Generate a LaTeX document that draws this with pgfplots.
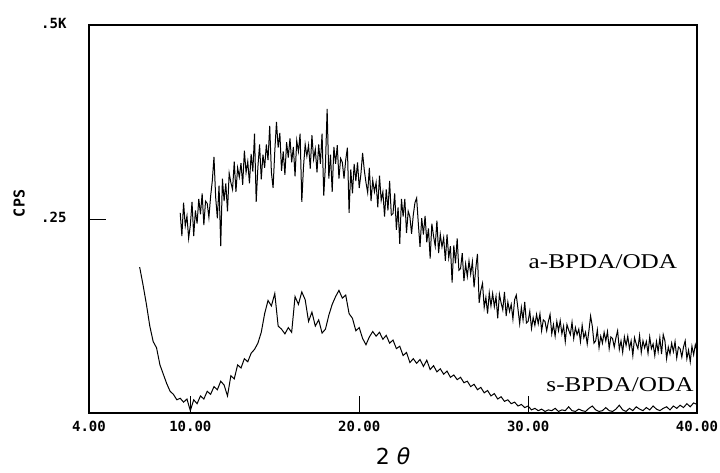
\documentclass[border=0pt]{standalone}
\usepackage{fontspec}
\usepackage{pgfplots}
\pgfplotsset{compat=1.18}
\setmainfont{Liberation Serif}
\newfontfamily\monofont{DejaVu Sans Mono}
\newfontfamily\sansfont{DejaVu Sans}
\newfontfamily\labelfont{Liberation Serif}[FakeStretch=1.2]
\begin{document}
\begin{tikzpicture}
\begin{axis}[
  scale only axis,
  width=608pt, height=388pt,
  xmin=4, xmax=40, ymin=0, ymax=500,
  axis line style={line width=1.3pt, black},
  xtick={4,10,20,30,40},
  xticklabels={4.00,10.00,20.00,30.00,40.00},
  ytick={250,500},
  yticklabels={.25,.5K},
  xtick pos=bottom, ytick pos=left,
  tick align=inside,
  major tick length=17pt,
  tick style={line width=0.9pt, black},
  xticklabel style={font=\monofont\bfseries\fontsize{14}{14}\selectfont, yshift=-5pt},
  yticklabel style={font=\monofont\bfseries\fontsize{14}{14}\selectfont, xshift=-19pt, yshift=2pt},
  xlabel={{\sansfont 2 \itshape θ}},
  xlabel style={font=\fontsize{22}{22}\selectfont, at={(axis description cs:0.5,-0.111)}, anchor=center},
  ylabel={CPS},
  ylabel style={font=\monofont\bfseries\fontsize{15}{15}\selectfont, at={(axis description cs:-0.115,0.54)}, anchor=center},
  clip=false,
]
% a-BPDA/ODA
\addplot[black, line width=1pt] coordinates {
(9.4,258)(9.5,228)(9.6,271)(9.7,241)(9.8,254)(9.9,225)
(10.0,242)(10.1,272)(10.2,228)(10.3,261)(10.4,244)(10.5,276)(10.6,256)(10.7,283)(10.8,242)(10.9,273)
(11.0,270)(11.1,252)(11.2,279)(11.3,299)(11.4,330)(11.5,278)(11.6,251)(11.7,293)(11.8,215)(11.9,302)
(12.0,273)(12.1,296)(12.2,260)(12.3,309)(12.4,297)(12.5,288)(12.6,324)(12.7,285)(12.8,316)(12.9,304)
(13.0,322)(13.1,294)(13.2,338)(13.3,310)(13.4,324)(13.5,296)(13.6,334)(13.7,311)(13.8,360)(13.9,272)
(14.0,317)(14.1,346)(14.2,301)(14.3,333)(14.4,316)(14.5,346)(14.6,326)(14.7,370)(14.8,310)(14.9,290)
(15.0,337)(15.1,375)(15.2,342)(15.3,361)(15.4,312)(15.5,337)(15.6,307)(15.7,349)(15.8,329)(15.9,354)
(16.0,323)(16.1,343)(16.2,305)(16.3,351)(16.4,337)(16.5,360)(16.6,272)(16.7,317)(16.8,346)(16.9,331)
(17.0,345)(17.1,315)(17.2,358)(17.3,327)(17.4,340)(17.5,310)(17.6,346)(17.7,321)(17.8,360)(17.9,280)
(18.0,320)(18.1,392)(18.2,302)(18.3,333)(18.4,285)(18.5,343)(18.6,321)(18.7,345)(18.8,302)(18.9,328)
(19.0,323)(19.1,302)(19.2,326)(19.3,342)(19.4,258)(19.5,314)(19.6,283)(19.7,321)(19.8,299)(19.9,323)
(20.0,290)(20.1,308)(20.2,335)(20.3,313)(20.4,297)(20.5,284)(20.6,316)(20.7,273)(20.8,300)(20.9,285)
(21.0,297)(21.1,265)(21.2,306)(21.3,274)(21.4,285)(21.5,253)(21.6,288)(21.7,261)(21.8,299)(21.9,255)
(22.0,257)(22.1,283)(22.2,236)(22.3,265)(22.4,218)(22.5,276)(22.6,253)(22.7,276)(22.8,232)(22.9,260)
(23.0,253)(23.1,231)(23.2,255)(23.3,271)(23.4,277)(23.5,244)(23.6,214)(23.7,251)(23.8,230)(23.9,254)
(24.0,220)(24.1,238)(24.2,199)(24.3,244)(24.4,228)(24.5,215)(24.6,248)(24.7,206)(24.8,230)(24.9,214)
(25.0,226)(25.1,196)(25.2,230)(25.3,200)(25.4,215)(25.5,168)(25.6,216)(25.7,193)(25.8,225)(25.9,184)
(26.0,186)(26.1,206)(26.2,170)(26.3,192)(26.4,176)(26.5,196)(26.6,179)(26.7,195)(26.8,162)(26.9,186)
(27.0,205)(27.1,142)(27.2,158)(27.3,167)(27.4,136)(27.5,149)(27.6,128)(27.7,155)(27.8,138)(27.9,154)
(28.0,137)(28.1,150)(28.2,122)(28.3,153)(28.4,142)(28.5,133)(28.6,156)(28.7,125)(28.8,143)(28.9,131)
(29.0,140)(29.1,121)(29.2,146)(29.3,152)(29.4,134)(29.5,115)(29.6,136)(29.7,120)(29.8,143)(29.9,116)
(30.0,118)(30.1,131)(30.2,109)(30.3,123)(30.4,113)(30.5,127)(30.6,115)(30.7,128)(30.8,106)(30.9,120)
(31.0,118)(31.1,106)(31.2,118)(31.3,127)(31.4,102)(31.5,114)(31.6,99)(31.7,118)(31.8,106)(31.9,119)
(32.0,102)(32.1,112)(32.2,92)(32.3,114)(32.4,107)(32.5,101)(32.6,117)(32.7,96)(32.8,110)(32.9,101)
(33.0,108)(33.1,92)(33.2,113)(33.3,97)(33.4,104)(33.5,89)(33.6,106)(33.7,125)(33.8,112)(33.9,90)
(34.0,93)(34.1,107)(34.2,84)(34.3,99)(34.4,90)(34.5,104)(34.6,93)(34.7,105)(34.8,83)(34.9,98)
(35.0,96)(35.1,85)(35.2,97)(35.3,106)(35.4,82)(35.5,93)(35.6,78)(35.7,98)(35.8,87)(35.9,99)
(36.0,83)(36.1,93)(36.2,74)(36.3,97)(36.4,89)(36.5,83)(36.6,100)(36.7,78)(36.8,93)(36.9,84)
(37.0,92)(37.1,77)(37.2,98)(37.3,83)(37.4,89)(37.5,74)(37.6,92)(37.7,79)(37.8,97)(37.9,76)
(38.0,101)(38.1,93)(38.2,70)(38.3,85)(38.4,76)(38.5,90)(38.6,79)(38.7,92)(38.8,71)(38.9,85)
(39.0,83)(39.1,72)(39.2,85)(39.3,93)(39.4,70)(39.5,81)(39.6,66)(39.7,86)(39.8,75)(39.9,88)(40.0,80)
};
% s-BPDA/ODA
\addplot[black, line width=1pt] coordinates {
(7.0,188)(7.2,165)(7.4,140)(7.6,112)(7.8,92)(8.0,84)(8.2,62)(8.4,50)(8.6,38)(8.8,28)
(9.0,24)(9.2,17)(9.4,19)(9.6,14)(9.8,18)(10.0,3)(10.2,17)(10.4,12)(10.6,22)(10.8,18)
(11.0,28)(11.2,24)(11.4,34)(11.6,30)(11.8,41)(12.0,36)(12.2,22)(12.4,48)(12.6,44)(12.8,62)
(13.0,58)(13.2,70)(13.4,66)(13.6,77)(13.8,82)(14.0,90)(14.2,104)(14.4,128)(14.6,145)(14.8,138)
(15.0,154)(15.2,112)(15.4,108)(15.6,102)(15.8,110)(16.0,104)(16.2,150)(16.4,140)(16.6,156)(16.8,146)
(17.0,118)(17.2,130)(17.4,112)(17.6,120)(17.8,103)(18.0,108)(18.2,126)(18.4,140)(18.6,150)(18.8,158)
(19.0,148)(19.2,152)(19.4,128)(19.6,122)(19.8,106)(20.0,110)(20.2,96)(20.4,88)(20.6,98)(20.8,105)
(21.0,99)(21.2,104)(21.4,95)(21.6,100)(21.8,90)(22.0,94)(22.2,83)(22.4,86)(22.6,74)(22.8,78)
(23.0,65)(23.2,70)(23.4,64)(23.6,69)(23.8,60)(24.0,68)(24.2,56)(24.4,61)(24.6,53)(24.8,57)
(25.0,50)(25.2,54)(25.4,46)(25.6,49)(25.8,43)(26.0,46)(26.2,39)(26.4,41)(26.6,34)(26.8,37)
(27.0,30)(27.2,33)(27.4,26)(27.6,29)(27.8,22)(28.0,25)(28.2,18)(28.4,21)(28.6,15)(28.8,17)
(29.0,12)(29.2,14)(29.4,9)(29.6,11)(29.8,7)(30.0,9)(30.2,4)(30.4,6)(30.6,3)(30.8,5)
(31.0,2)(31.2,4)(31.4,3)(31.6,6)(31.8,2)(32.0,4)(32.2,3)(32.4,8)(32.6,3)(32.8,2)
(33.0,5)(33.2,3)(33.4,2)(33.6,6)(33.8,9)(34.0,4)(34.2,2)(34.4,3)(34.6,7)(34.8,3)
(35.0,2)(35.2,5)(35.4,10)(35.6,4)(35.8,2)(36.0,6)(36.2,3)(36.4,8)(36.6,5)(36.8,3)
(37.0,7)(37.2,4)(37.4,9)(37.6,5)(37.8,3)(38.0,6)(38.2,8)(38.4,4)(38.6,9)(38.8,6)
(39.0,10)(39.2,7)(39.4,12)(39.6,8)(39.8,13)(40.0,11)
};
\node[font=\labelfont\fontsize{21}{21}\selectfont] at (axis cs:34.43,195) {a-BPDA/ODA};
\node[font=\labelfont\fontsize{21}{21}\selectfont] at (axis cs:35.44,36) {s-BPDA/ODA};
\end{axis}
\pgfresetboundingbox
\path[use as bounding box] ([shift={(-89pt,-60pt)}]current axis.south west) rectangle ([shift={(23pt,25pt)}]current axis.north east);
\end{tikzpicture}
\end{document}
